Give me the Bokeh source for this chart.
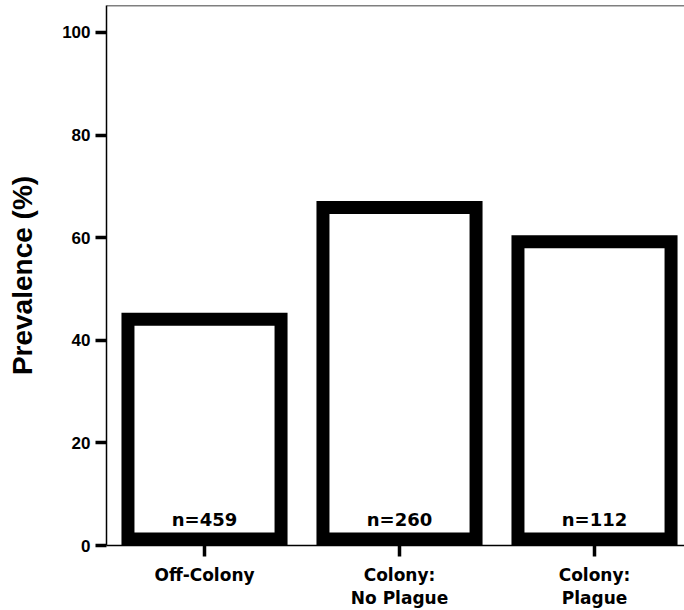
from bokeh.plotting import figure
from bokeh.models import Range1d, FixedTicker, ColumnDataSource, Span
from bokeh.core.properties import value
from bokeh.embed import file_html
from bokeh.resources import INLINE

categories = ["Off-Colony", "Colony:\nNo Plague", "Colony:\nPlague"]
prevalence = [44.1, 65.9, 59.2]
n_counts = [459, 260, 112]
y_ticks = [0, 20, 40, 60, 80, 100]

Y_TOP = 105.25

xs = list(range(len(categories)))
src = ColumnDataSource(dict(
    x=xs,
    top=prevalence,
    label=["n=%d" % n for n in n_counts],
))

p = figure(width=684, height=610, output_backend="svg", toolbar_location=None,
           x_range=Range1d(-0.5026, 2.4615), y_range=Range1d(0, Y_TOP),
           min_border_left=106, min_border_right=0, min_border_top=5,
           min_border_bottom=64)

p.vbar(x="x", top="top", bottom=1.26, width=0.785, source=src,
       fill_color="white", line_color="black", line_width=13, line_join="miter")

p.text(x="x", y=5.0, text="label", source=src, text_align="center",
       text_baseline="middle", text_font=value("DejaVu Sans"),
       text_font_style="bold", text_font_size="18px", text_color="black")

p.xgrid.visible = False
p.ygrid.visible = False
p.outline_line_color = None
p.add_layout(Span(location=Y_TOP, dimension="width", line_color="black",
                  line_width=1.5))

p.xaxis.ticker = FixedTicker(ticks=xs)
p.xaxis.major_label_overrides = {i: c for i, c in enumerate(categories)}
p.yaxis.ticker = FixedTicker(ticks=y_ticks)

for ax in (p.xaxis[0], p.yaxis[0]):
    ax.axis_line_color = "black"
    ax.axis_line_width = 1.5
    ax.major_tick_line_color = "black"
    ax.major_tick_line_width = 3.5
    ax.major_tick_in = 0
    ax.major_tick_out = 11
    ax.minor_tick_line_color = None
    ax.major_label_text_color = "black"

p.yaxis.major_label_text_font = "Liberation Sans"
p.yaxis.major_label_text_font_style = "bold"
p.yaxis.major_label_text_font_size = "17px"
p.yaxis.major_label_standoff = 5

p.xaxis.major_label_text_font = "DejaVu Sans"
p.xaxis.major_label_text_font_style = "bold"
p.xaxis.major_label_text_font_size = "17px"
p.xaxis.major_label_text_line_height = 1.15
p.xaxis.major_label_standoff = 8

p.yaxis.axis_label = "Prevalence (%)"
p.yaxis.axis_label_text_font = "Liberation Sans"
p.yaxis.axis_label_text_font_style = "bold"
p.yaxis.axis_label_text_font_size = "28px"
p.yaxis.axis_label_text_color = "black"
p.yaxis.axis_label_standoff = 21

open("out.html", "w").write(file_html(p, INLINE))
